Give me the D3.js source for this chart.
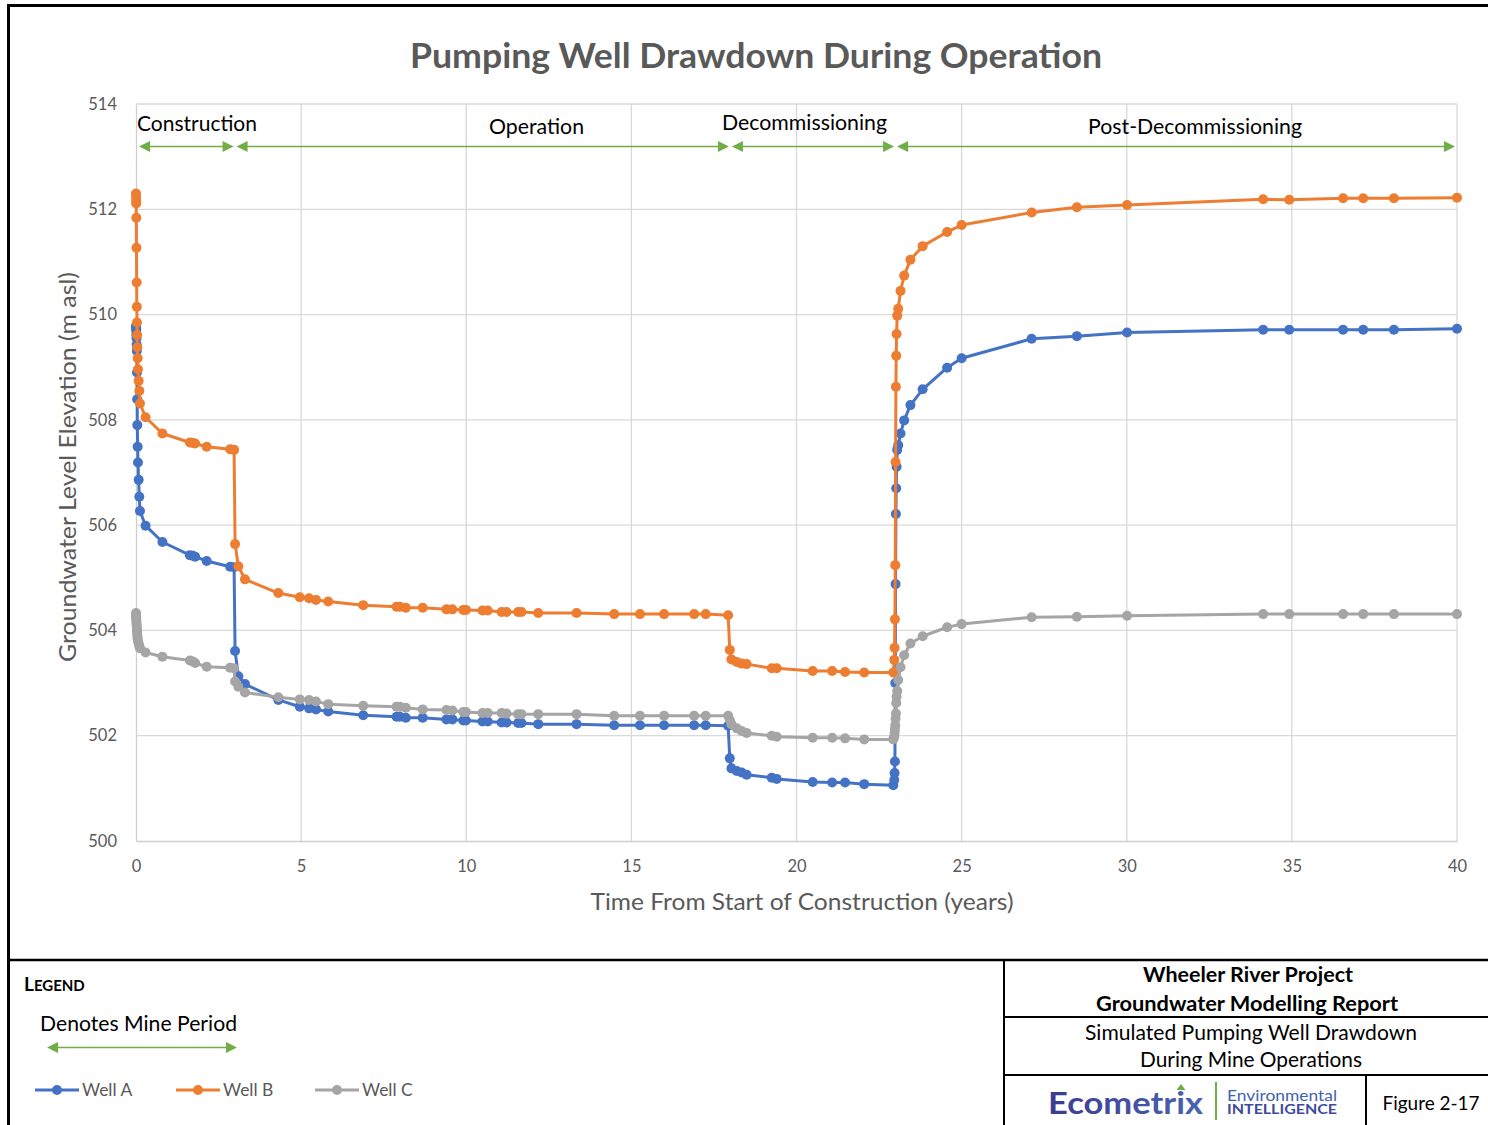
<!DOCTYPE html>
<html>
<head>
<meta charset="utf-8">
<script src="https://cdn.jsdelivr.net/npm/d3@7"></script>
<style>
  body { margin: 0; background: #fff; }
  svg { display: block; }
  text { font-family: Lato, "Open Sans", sans-serif; }
</style>
</head>
<body>
<svg id="chart" width="1488" height="1125"></svg>
<script>
// ---------------- DATA ----------------
const chartTitle = "Pumping Well Drawdown During Operation";
const xAxisTitle = "Time From Start of Construction (years)";
const yAxisTitle = "Groundwater Level Elevation (m asl)";
const xTicks = [0, 5, 10, 15, 20, 25, 30, 35, 40];
const yTicks = [500, 502, 504, 506, 508, 510, 512, 514];
const seriesNames = ["Well A", "Well B", "Well C"];
const seriesColors = ["#4472c4", "#ed7d31", "#a5a5a5"];

const phaseNames = ["Construction", "Operation", "Decommissioning", "Post-Decommissioning"];
const phaseStart = [0, 3, 18, 23];
const phaseEnd = [3, 18, 23, 40];

const times = [
  0, 0.002, 0.004, 0.006, 0.01, 0.015, 0.02, 0.025, 0.03, 0.035, 0.04, 0.05, 0.06, 0.08, 0.1, 0.12,
  0.29, 0.80, 1.63, 1.72, 1.79, 2.14, 2.85, 2.97, 3.0, 3.1, 3.3, 4.31,
  4.96, 5.24, 5.45, 5.82, 6.88, 7.89, 7.99, 8.17, 8.68, 9.40, 9.58, 9.91, 9.99, 10.49, 10.65,
  11.07, 11.22, 11.57, 11.67, 12.18, 13.34, 14.48, 15.26, 15.99, 16.90, 17.25, 17.93,
  17.98, 18.03, 18.19, 18.34, 18.49, 19.25, 19.40, 20.49, 21.08, 21.47, 22.05, 22.93,
  22.96, 22.97, 22.98, 22.99, 23.0, 23.01, 23.02, 23.03, 23.05, 23.08, 23.15, 23.26, 23.45, 23.82,
  24.56, 25.0, 27.12, 28.49, 30.01, 34.13, 34.92, 36.55, 37.16, 38.09, 40.0
];

const wellA = [
  509.78, 509.76, 509.74, 509.70, 509.62, 509.55, 509.43, 509.31, 508.90, 508.39, 507.90, 507.49, 507.19, 506.86, 506.54, 506.27,
  505.99, 505.68, 505.43, 505.42, 505.40, 505.32, 505.21, 505.20, 503.61, 503.13, 502.98, 502.68,
  502.55, 502.52, 502.50, 502.46, 502.39, 502.36, 502.36, 502.34, 502.34, 502.31, 502.31, 502.29, 502.29, 502.27, 502.27,
  502.25, 502.25, 502.24, 502.24, 502.22, 502.22, 502.20, 502.20, 502.20, 502.20, 502.20, 502.19,
  501.57, 501.38, 501.33, 501.30, 501.26, 501.20, 501.18, 501.12, 501.11, 501.11, 501.08, 501.06,
  501.16, 501.29, 501.51, 503.00, 504.88, 506.21, 506.70, 507.11, 507.43, 507.52, 507.74, 507.99, 508.28, 508.58,
  508.99, 509.17, 509.54, 509.59, 509.66, 509.71, 509.71, 509.71, 509.71, 509.71, 509.73
];

const wellB = [
  512.30, 512.24, 512.17, 512.11, 511.84, 511.27, 510.61, 510.15, 509.85, 509.61, 509.38, 509.17, 508.96, 508.74, 508.55, 508.31,
  508.05, 507.74, 507.57, 507.56, 507.55, 507.49, 507.44, 507.43, 505.64, 505.22, 504.97, 504.71,
  504.63, 504.61, 504.58, 504.55, 504.48, 504.45, 504.45, 504.43, 504.43, 504.40, 504.40, 504.39, 504.39, 504.38, 504.38,
  504.35, 504.35, 504.35, 504.35, 504.33, 504.33, 504.31, 504.31, 504.31, 504.31, 504.31, 504.29,
  503.63, 503.45, 503.40, 503.37, 503.36, 503.28, 503.28, 503.23, 503.23, 503.21, 503.20, 503.20,
  503.44, 503.67, 504.21, 505.24, 507.20, 508.63, 509.22, 509.63, 509.98, 510.11, 510.45, 510.74, 511.04, 511.30,
  511.57, 511.70, 511.94, 512.04, 512.08, 512.19, 512.18, 512.21, 512.21, 512.21, 512.22
];

const wellC = [
  504.33, 504.30, 504.27, 504.24, 504.20, 504.15, 504.10, 504.05, 504.00, 503.95, 503.90, 503.85, 503.80, 503.75, 503.70, 503.66,
  503.58, 503.50, 503.43, 503.41, 503.38, 503.31, 503.29, 503.28, 503.03, 502.93, 502.82, 502.73,
  502.69, 502.68, 502.65, 502.60, 502.57, 502.55, 502.55, 502.53, 502.50, 502.49, 502.48, 502.45, 502.45, 502.43, 502.43,
  502.43, 502.42, 502.41, 502.41, 502.41, 502.41, 502.38, 502.38, 502.38, 502.38, 502.38, 502.38,
  502.30, 502.22, 502.14, 502.09, 502.05, 502.00, 501.98, 501.96, 501.96, 501.95, 501.93, 501.93,
  501.98, 502.05, 502.12, 502.20, 502.32, 502.42, 502.62, 502.74, 502.85, 503.06, 503.30, 503.53, 503.75, 503.89,
  504.06, 504.12, 504.25, 504.26, 504.28, 504.31, 504.31, 504.31, 504.31, 504.31, 504.31
];

// ---------------- DRAWING ----------------
const svg = d3.select("#chart");
const plot = { left: 136, right: 1457, top: 104, bottom: 841 };
const x = d3.scaleLinear().domain([0, 40]).range([plot.left, plot.right]);
const y = d3.scaleLinear().domain([500, 514]).range([plot.bottom, plot.top]);
const green = "#70ad47";
const axisGray = "#595959";

function fit(sel, len) {
  return sel.attr("textLength", len).attr("lengthAdjust", "spacingAndGlyphs");
}

// gridlines
svg.append("g").selectAll("line.h").data(yTicks.filter(d => d > 500)).join("line")
  .attr("x1", plot.left).attr("x2", plot.right)
  .attr("y1", d => y(d)).attr("y2", d => y(d))
  .attr("stroke", "#d9d9d9").attr("stroke-width", 1.3);
svg.append("g").selectAll("line.v").data(xTicks.filter(d => d > 0)).join("line")
  .attr("x1", d => x(d)).attr("x2", d => x(d))
  .attr("y1", plot.top).attr("y2", plot.bottom)
  .attr("stroke", "#d9d9d9").attr("stroke-width", 1.3);

// axes
const xAxis = d3.axisBottom(x).tickValues(xTicks).tickSize(0).tickPadding(19);
const gx = svg.append("g").attr("transform", `translate(0,${plot.bottom})`).call(xAxis);
gx.select(".domain").attr("stroke", "#cfcfcf").attr("stroke-width", 1.3);
gx.selectAll("text").attr("fill", axisGray).attr("font-size", 16.5).attr("font-family", "Lato, sans-serif");

const yAxis = d3.axisLeft(y).tickValues(yTicks).tickSize(0).tickPadding(19);
const gy = svg.append("g").attr("transform", `translate(${plot.left},0)`).call(yAxis);
gy.select(".domain").attr("stroke", "#cfcfcf").attr("stroke-width", 1.3);
gy.selectAll("text").attr("fill", axisGray).attr("font-size", 16.5).attr("font-family", "Lato, sans-serif");

// titles
fit(svg.append("text").attr("x", 756).attr("y", 68).attr("text-anchor", "middle")
  .attr("font-size", 34).attr("font-weight", 700).attr("fill", axisGray).text(chartTitle), 692);
fit(svg.append("text").attr("x", 802).attr("y", 910).attr("text-anchor", "middle")
  .attr("font-size", 23).attr("fill", axisGray).text(xAxisTitle), 423);
fit(svg.append("text").attr("transform", "translate(76,467) rotate(-90)").attr("text-anchor", "middle")
  .attr("font-size", 23).attr("fill", axisGray).text(yAxisTitle), 390);

// phase arrows
function arrow(g, x1, x2, yy) {
  const L = 11, H = 5.5;
  g.append("line").attr("x1", x1 + 4).attr("x2", x2 - 4).attr("y1", yy).attr("y2", yy)
    .attr("stroke", green).attr("stroke-width", 1.3);
  g.append("path").attr("d", `M${x1},${yy} L${x1 + L},${yy - H} L${x1 + L},${yy + H} Z`).attr("fill", green);
  g.append("path").attr("d", `M${x2},${yy} L${x2 - L},${yy - H} L${x2 - L},${yy + H} Z`).attr("fill", green);
}
const gPh = svg.append("g");
const phaseLabelX = [197, 536.5, 804.5, 1195];
const phaseLabelY = [131, 134, 130, 134];
const phaseLabelW = [120, 95, 165, 214];
phaseNames.forEach((p, i) => {
  arrow(gPh, x(phaseStart[i]) + (i === 0 ? 3 : 1.5), x(phaseEnd[i]) - (i === 3 ? 2 : 1.5), 146.5);
  fit(gPh.append("text").attr("x", phaseLabelX[i]).attr("y", phaseLabelY[i]).attr("text-anchor", "middle")
    .attr("font-size", 21).attr("fill", "#000").text(p), phaseLabelW[i]);
});

// series
const allSeries = [wellA, wellB, wellC];
const line = d3.line().x(d => x(d[0])).y(d => y(d[1]));
allSeries.forEach((vals, i) => {
  const pts = times.map((t, j) => [t, vals[j]]);
  const g = svg.append("g");
  g.append("path").datum(pts).attr("d", line).attr("fill", "none")
    .attr("stroke", seriesColors[i]).attr("stroke-width", 3).attr("stroke-linejoin", "round");
  g.selectAll("circle").data(pts).join("circle")
    .attr("cx", d => x(d[0])).attr("cy", d => y(d[1])).attr("r", 5)
    .attr("fill", seriesColors[i]);
});

// ---------------- FRAME ----------------
const frame = svg.append("g").attr("stroke", "#000").attr("fill", "none");
frame.append("line").attr("x1", 7).attr("x2", 1488).attr("y1", 5.5).attr("y2", 5.5).attr("stroke-width", 3);
frame.append("line").attr("x1", 8.5).attr("x2", 8.5).attr("y1", 4).attr("y2", 1125).attr("stroke-width", 3);
frame.append("line").attr("x1", 7).attr("x2", 1488).attr("y1", 960).attr("y2", 960).attr("stroke-width", 2.5);
frame.append("line").attr("x1", 1004).attr("x2", 1004).attr("y1", 960).attr("y2", 1125).attr("stroke-width", 2);
frame.append("line").attr("x1", 1004).attr("x2", 1488).attr("y1", 1017).attr("y2", 1017).attr("stroke-width", 2);
frame.append("line").attr("x1", 1004).attr("x2", 1488).attr("y1", 1075).attr("y2", 1075).attr("stroke-width", 2);
frame.append("line").attr("x1", 1366).attr("x2", 1366).attr("y1", 1075).attr("y2", 1125).attr("stroke-width", 2);

// ---------------- LEGEND ----------------
const lg = svg.append("g");
const lt = lg.append("text").attr("x", 24).attr("y", 991).attr("font-weight", 700).attr("fill", "#000");
lt.append("tspan").attr("font-size", 19).text("L");
lt.append("tspan").attr("font-size", 15).text("EGEND");
fit(lg.append("text").attr("x", 40).attr("y", 1031).attr("font-size", 21).attr("fill", "#000").text("Denotes Mine Period"), 197);
arrow(lg, 47, 237, 1047.5);
const legX = [35, 176, 315];
seriesNames.forEach((n, i) => {
  lg.append("line").attr("x1", legX[i]).attr("x2", legX[i] + 44).attr("y1", 1090).attr("y2", 1090)
    .attr("stroke", seriesColors[i]).attr("stroke-width", 3);
  lg.append("circle").attr("cx", legX[i] + 22).attr("cy", 1090).attr("r", 5).attr("fill", seriesColors[i]);
  lg.append("text").attr("x", legX[i] + 47).attr("y", 1096).attr("font-size", 17.5).attr("fill", axisGray).text(n);
});

// ---------------- TITLE BLOCK ----------------
const tb = svg.append("g").attr("text-anchor", "middle").attr("fill", "#000");
fit(tb.append("text").attr("x", 1248).attr("y", 982).attr("font-size", 21).attr("font-weight", 700).text("Wheeler River Project"), 210);
fit(tb.append("text").attr("x", 1247).attr("y", 1011).attr("font-size", 21).attr("font-weight", 700).text("Groundwater Modelling Report"), 302);
fit(tb.append("text").attr("x", 1251).attr("y", 1040).attr("font-size", 21).text("Simulated Pumping Well Drawdown"), 332);
fit(tb.append("text").attr("x", 1251).attr("y", 1067).attr("font-size", 21).text("During Mine Operations"), 222);
fit(tb.append("text").attr("x", 1431).attr("y", 1110).attr("font-size", 20).text("Figure 2-17"), 97);

// logo
const logo = svg.append("g");
const grad = svg.append("defs").append("linearGradient").attr("id", "ecoGrad").attr("x1", "0").attr("x2", "1");
grad.append("stop").attr("offset", "0").attr("stop-color", "#3b3d8f");
grad.append("stop").attr("offset", "1").attr("stop-color", "#4a63b0");
fit(logo.append("text").attr("x", 1048).attr("y", 1114).attr("font-size", 31).attr("font-weight", 700)
  .attr("fill", "url(#ecoGrad)").text("Ecometrix"), 155);
logo.append("path").attr("d", "M1181,1084 L1185.5,1090 L1176.5,1090 Z").attr("fill", green);
logo.append("line").attr("x1", 1216).attr("x2", 1216).attr("y1", 1082).attr("y2", 1120)
  .attr("stroke", green).attr("stroke-width", 2);
fit(logo.append("text").attr("x", 1227).attr("y", 1101).attr("font-size", 15).attr("fill", "#3f62ae").text("Environmental"), 110);
fit(logo.append("text").attr("x", 1227).attr("y", 1113.5).attr("font-size", 12.5).attr("font-weight", 700).attr("fill", "#3d4b9b").text("INTELLIGENCE"), 110);
</script>
</body>
</html>
